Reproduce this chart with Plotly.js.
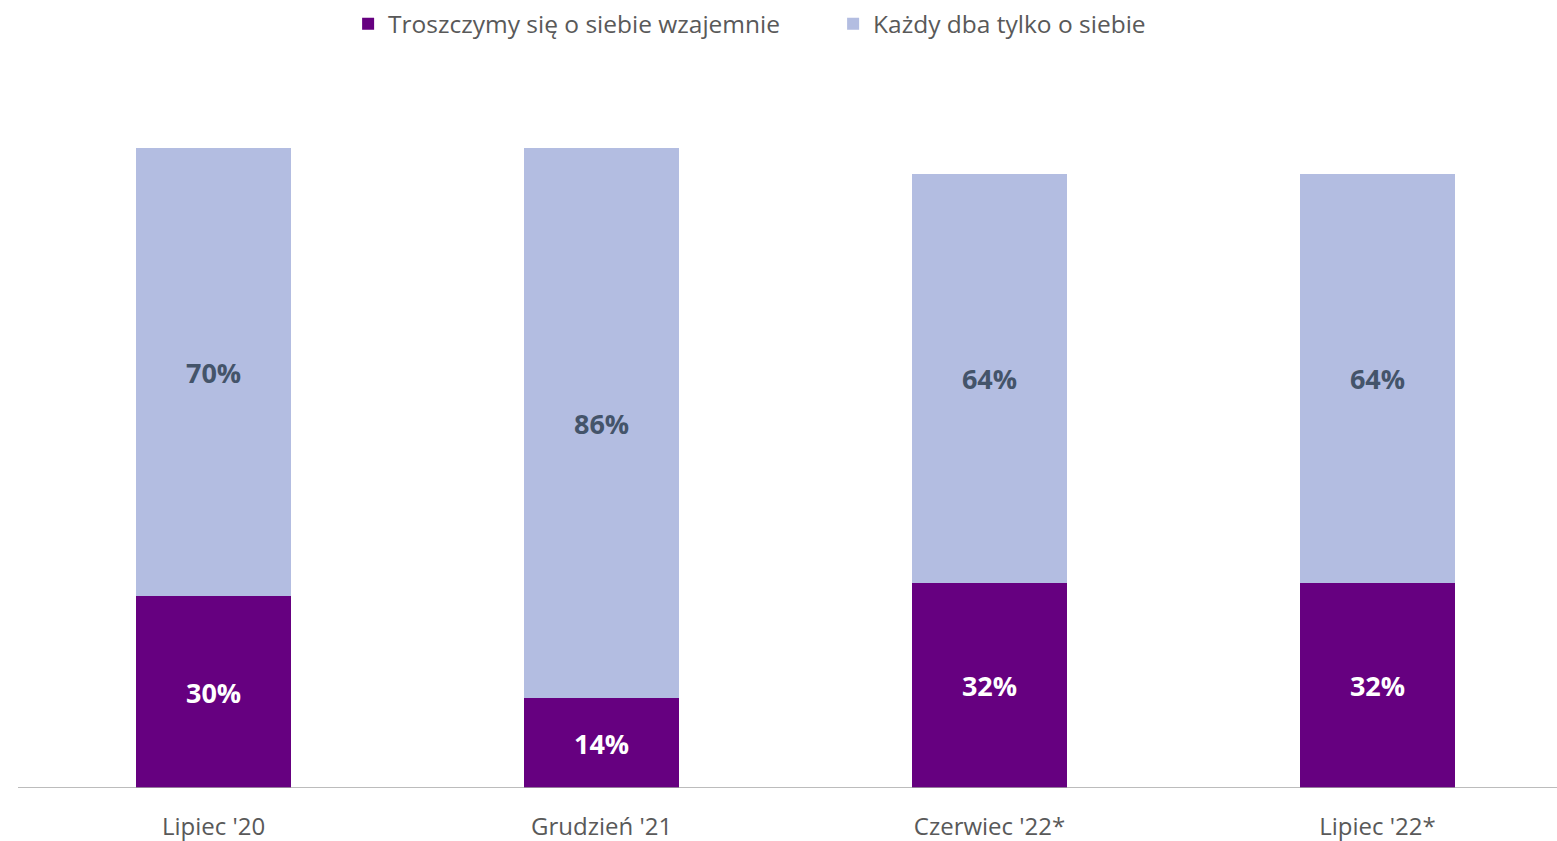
<!DOCTYPE html>
<html>
<head>
<meta charset="utf-8">
<script src="https://cdn.plot.ly/plotly-3.0.1.min.js"></script>
<style>html,body{margin:0;padding:0;background:#fff;}#chart{width:1557px;height:841px;}</style>
</head>
<body>
<div id="chart"></div>
<script>
const categories = ["Lipiec '20", "Grudzień '21", "Czerwiec '22*", "Lipiec '22*"];
const seriesNames = ["Troszczymy się o siebie wzajemnie", "Każdy dba tylko o siebie"];
const caring = [30, 14, 32, 32];
const selfish = [70, 86, 64, 64];

const fontFam = '"Open Sans", "Noto Sans", sans-serif';
const idx = categories.map((c, i) => i);

const traces = [
  {
    type: 'bar', name: seriesNames[0], x: idx, y: caring,
    marker: {color: '#660080'},
    text: caring.map(v => v + '%'), textposition: 'inside', insidetextanchor: 'middle',
    textfont: {family: fontFam, size: 27, color: '#ffffff', weight: 'bold'},
    hoverinfo: 'skip'
  },
  {
    type: 'bar', name: seriesNames[1], x: idx, y: selfish,
    marker: {color: '#b3bde1'},
    text: selfish.map(v => v + '%'), textposition: 'inside', insidetextanchor: 'middle',
    textfont: {family: fontFam, size: 27, color: '#44546a', weight: 'bold'},
    hoverinfo: 'skip'
  }
];

const layout = {
  width: 1557, height: 841,
  margin: {l: 18, r: 0, t: 148, b: 53},
  paper_bgcolor: '#ffffff', plot_bgcolor: '#ffffff',
  barmode: 'stack', bargap: 0.6,
  showlegend: true,
  legend: {
    orientation: 'h', traceorder: 'normal',
    x: 0.2145, xanchor: 'left', y: 1.194, yanchor: 'middle',
    font: {family: fontFam, size: 24.5, color: '#595959'},
    entrywidth: 440, entrywidthmode: 'pixels'
  },
  xaxis: {
    range: [-0.504, 3.4626], tickmode: 'array', tickvals: idx, ticktext: categories,
    showgrid: false, zeroline: false, showline: false, ticks: '',
    ticklabelstandoff: 22,
    tickfont: {family: fontFam, size: 24, color: '#595959'}, fixedrange: true
  },
  yaxis: {
    range: [0, 100], visible: false, showgrid: false, zeroline: false, fixedrange: true
  },
  shapes: [{type: 'line', xref: 'paper', yref: 'y', x0: 0, x1: 1, y0: 0, y1: 0,
            line: {color: '#a6a6a6', width: 1.5}, layer: 'above'}],
  uniformtext: {mode: false}
};

Plotly.newPlot('chart', traces, layout, {displayModeBar: false, staticPlot: true});
</script>
</body>
</html>
